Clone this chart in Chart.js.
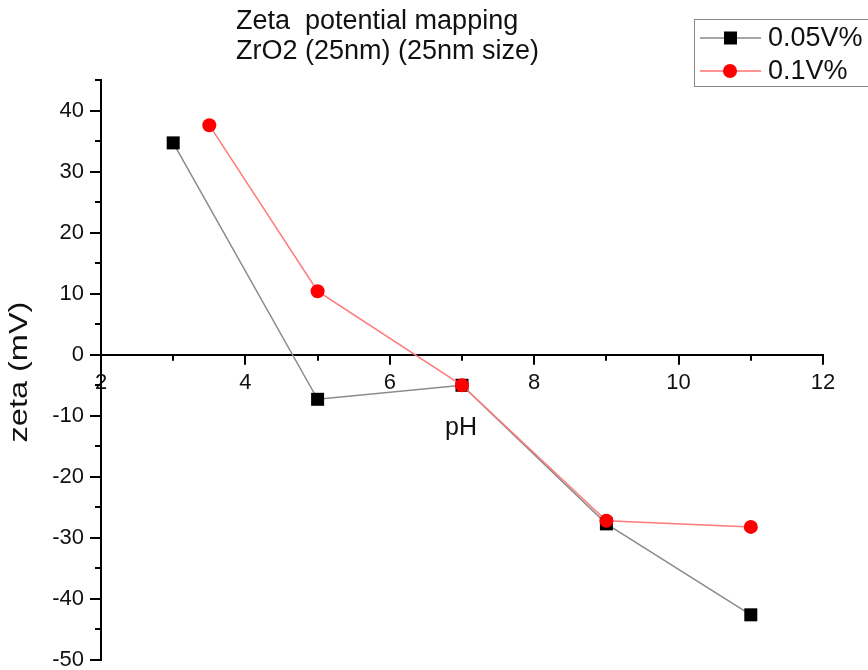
<!DOCTYPE html>
<html>
<head>
<meta charset="utf-8">
<script src="https://cdn.jsdelivr.net/npm/chart.js@4/dist/chart.umd.min.js"></script>
<style>
  html, body { margin: 0; padding: 0; background: #fff; }
  canvas { display: block; }
</style>
</head>
<body>
<canvas id="chart" width="868" height="670"></canvas>
<script>
// data
const phLow = [3, 5, 7, 9, 11]
const zetaLow = [34.7, -7.3, -5.0, -27.7, -42.6]
const phHigh = [3.5, 5, 7, 9, 11]
const zetaHigh = [37.6, 10.4, -5.0, -27.2, -28.2]

const seriesNames = ["0.05V%", "0.1V%"]
const titleLines = ["Zeta  potential mapping", "ZrO2 (25nm) (25nm size)"]
const xTitle = "pH"
const yTitle = "zeta (mV)"

const FONT = "'Liberation Sans', Arial, sans-serif"

const toPoints = (xs, ys) => xs.map((x, i) => ({ x, y: ys[i] }))

// ticks, titles and legend drawn by hand, Origin style
const decor = {
    id: 'decor',
    afterDraw(chart) {
        const ctx = chart.ctx
        const xs = chart.scales.x
        const ys = chart.scales.y
        const y0 = ys.getPixelForValue(0)
        const xl = chart.chartArea.left

        ctx.save()
        ctx.strokeStyle = '#000'
        ctx.lineWidth = 2
        ctx.beginPath()
        xs.ticks.forEach(t => {
            const px = Math.round(xs.getPixelForValue(t.value))
            const len = t.value % 2 === 0 ? 10 : 6
            ctx.moveTo(px, y0)
            ctx.lineTo(px, y0 + len)
        })
        ys.ticks.forEach(t => {
            const py = Math.round(ys.getPixelForValue(t.value))
            const len = t.value % 10 === 0 ? 11 : 6
            ctx.moveTo(xl, py)
            ctx.lineTo(xl - len, py)
        })
        ctx.stroke()

        ctx.fillStyle = '#111'
        ctx.textAlign = 'left'
        ctx.textBaseline = 'alphabetic'
        ctx.font = `27px ${FONT}`
        ctx.fillText(titleLines[0], 236, 29)
        ctx.fillText(titleLines[1], 236, 59)

        ctx.font = `25px ${FONT}`
        ctx.textAlign = 'center'
        ctx.textBaseline = 'middle'
        ctx.fillText(xTitle, 461, 428)

        ctx.save()
        ctx.translate(20, 372)
        ctx.rotate(-Math.PI / 2)
        ctx.scale(1.25, 1)
        ctx.font = `26px ${FONT}`
        ctx.fillText(yTitle, 0, 0)
        ctx.restore()

        // legend box
        ctx.strokeStyle = '#888'
        ctx.lineWidth = 1
        ctx.strokeRect(694.5, 19.5, 180, 67)

        const rows = [
            { y: 38, line: '#888', fill: '#000', style: 'rect' },
            { y: 71, line: '#ff7070', fill: '#ff0000', style: 'circle' }
        ]
        ctx.font = `27px ${FONT}`
        ctx.textAlign = 'left'
        ctx.textBaseline = 'middle'
        rows.forEach((r, i) => {
            ctx.strokeStyle = r.line
            ctx.lineWidth = 1.5
            ctx.beginPath()
            ctx.moveTo(700, r.y)
            ctx.lineTo(761, r.y)
            ctx.stroke()
            ctx.fillStyle = r.fill
            if (r.style === 'rect') {
                ctx.fillRect(724, r.y - 6.5, 13, 13)
            } else {
                ctx.beginPath()
                ctx.arc(730, r.y, 7, 0, Math.PI * 2)
                ctx.fill()
            }
            ctx.fillStyle = '#111'
            ctx.fillText(seriesNames[i], 768, r.y + 1)
        })
        ctx.restore()
    }
}

const chart = new Chart(document.getElementById('chart'), {
    type: 'scatter',
    data: {
        datasets: [{
            label: seriesNames[0],
            data: toPoints(phLow, zetaLow),
            showLine: true,
            borderColor: '#8a8a8a',
            borderWidth: 1.5,
            backgroundColor: '#000',
            pointStyle: 'rect',
            pointRadius: 9.2,
            pointBorderWidth: 0,
            order: 1
        }, {
            label: seriesNames[1],
            data: toPoints(phHigh, zetaHigh),
            showLine: true,
            borderColor: '#ff7a7a',
            borderWidth: 1.5,
            backgroundColor: '#ff0000',
            pointStyle: 'circle',
            pointRadius: 7,
            pointBorderWidth: 0,
            order: 0
        }]
    },
    options: {
        responsive: false,
        animation: false,
        layout: {
            padding: { left: 0, right: 45, top: 80, bottom: 10 }
        },
        plugins: {
            legend: { display: false },
            title: { display: false },
            tooltip: { enabled: false }
        },
        scales: {
            x: {
                type: 'linear',
                position: { y: 0 },
                min: 2,
                max: 12,
                ticks: {
                    stepSize: 1,
                    autoSkip: false,
                    maxRotation: 0,
                    padding: 15,
                    color: '#111',
                    font: { family: FONT, size: 22 },
                    callback: v => v % 2 === 0 ? v : ''
                },
                grid: { display: false, drawTicks: false },
                border: { display: true, color: '#000', width: 2 },
                afterFit: s => { s.paddingLeft = 0; s.paddingRight = 0 }
            },
            y: {
                type: 'linear',
                position: 'left',
                min: -50,
                max: 45,
                ticks: {
                    stepSize: 5,
                    autoSkip: false,
                    padding: 17,
                    color: '#111',
                    font: { family: FONT, size: 22 },
                    callback: v => v % 10 === 0 ? v : ''
                },
                grid: { display: false, drawTicks: false },
                border: { display: true, color: '#000', width: 2 },
                afterFit: s => {
                    s.width = 101
                    s.paddingTop = 0
                    s.paddingBottom = 0
                }
            }
        }
    },
    plugins: [decor]
})
</script>
</body>
</html>
